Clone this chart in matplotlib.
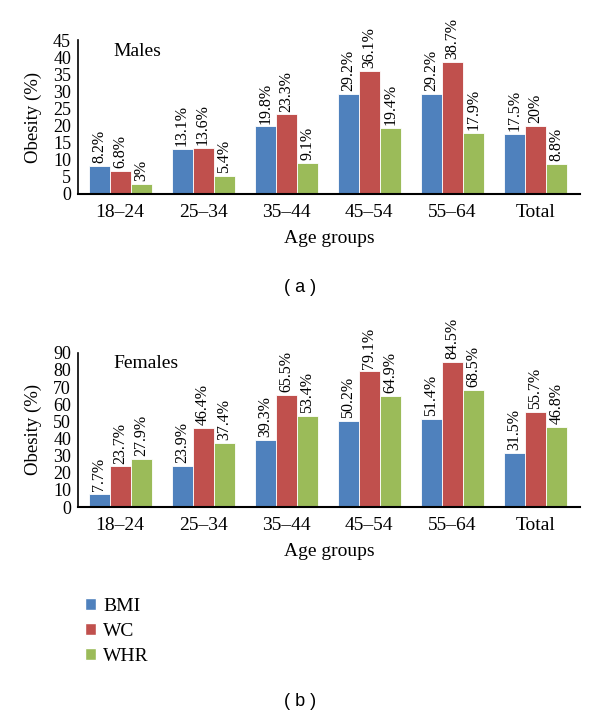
import matplotlib
matplotlib.use('Agg')
import matplotlib.pyplot as plt
import numpy as np
from matplotlib.patches import Patch

groups = ['18–24', '25–34', '35–44', '45–54', '55–64', 'Total']
series = ['BMI', 'WC', 'WHR']
colors = ['#4F81BD', '#C0504D', '#9BBB59']

males_bmi = [8.2, 13.1, 19.8, 29.2, 29.2, 17.5]
males_wc = [6.8, 13.6, 23.3, 36.1, 38.7, 20]
males_whr = [3, 5.4, 9.1, 19.4, 17.9, 8.8]

females_bmi = [7.7, 23.9, 39.3, 50.2, 51.4, 31.5]
females_wc = [23.7, 46.4, 65.5, 79.1, 84.5, 55.7]
females_whr = [27.9, 37.4, 53.4, 64.9, 68.5, 46.8]

plt.rcParams['font.family'] = ['Liberation Serif', 'DejaVu Serif']

fig = plt.figure(figsize=(6, 7.2), dpi=100)


def draw(ax, data, ymax, step, title):
    x = np.arange(len(groups))
    w = 0.253
    for i, vals in enumerate(data):
        xs = x + (i - 1) * w
        ax.bar(xs, vals, w, color=colors[i], edgecolor='white', linewidth=0.6)
        for xx, v in zip(xs, vals):
            ax.annotate('%g%%' % v, (xx, v), xytext=(0, 2), textcoords='offset points',
                        rotation=90, ha='center', va='bottom', fontsize=11.5)
    ax.set_xlim(-0.506, 5.54)
    ax.set_ylim(0, ymax)
    ax.set_yticks(np.arange(0, ymax + 1, step))
    ax.set_xticks(x)
    ax.set_xticklabels(groups)
    ax.tick_params(length=0, labelsize=13, pad=5)
    ax.tick_params(axis='x', labelsize=14, pad=7)
    for s in ['top', 'right']:
        ax.spines[s].set_visible(False)
    ax.spines['left'].set_linewidth(1.2)
    ax.spines['bottom'].set_linewidth(1.5)
    ax.set_ylabel('Obesity (%)', fontsize=13.5, labelpad=8)
    ax.set_xlabel('Age groups', fontsize=14, labelpad=7)
    ax.text(0.07, 0.93, title, transform=ax.transAxes, fontsize=14, va='center')


ax1 = fig.add_axes([0.13, 0.7306, 0.837, 0.2134])
draw(ax1, [males_bmi, males_wc, males_whr], 45, 5, 'Males')

ax2 = fig.add_axes([0.13, 0.2958, 0.837, 0.2142])
draw(ax2, [females_bmi, females_wc, females_whr], 90, 10, 'Females')

fig.text(0.5, 1 - 288 / 720, '( a )', ha='center', va='center', fontsize=13,
         family=['Liberation Sans', 'DejaVu Sans'])
fig.text(0.5, 1 - 702 / 720, '( b )', ha='center', va='center', fontsize=13,
         family=['Liberation Sans', 'DejaVu Sans'])

handles = [Patch(facecolor=c, edgecolor='white') for c in colors]
fig.legend(handles, series, loc='upper left', bbox_to_anchor=(0.115, 1 - 582 / 720),
           frameon=False, fontsize=14, handlelength=0.6, handleheight=0.6,
           handletextpad=0.35, labelspacing=0.42, borderpad=0.3)

fig.savefig('out.png', dpi=100)
